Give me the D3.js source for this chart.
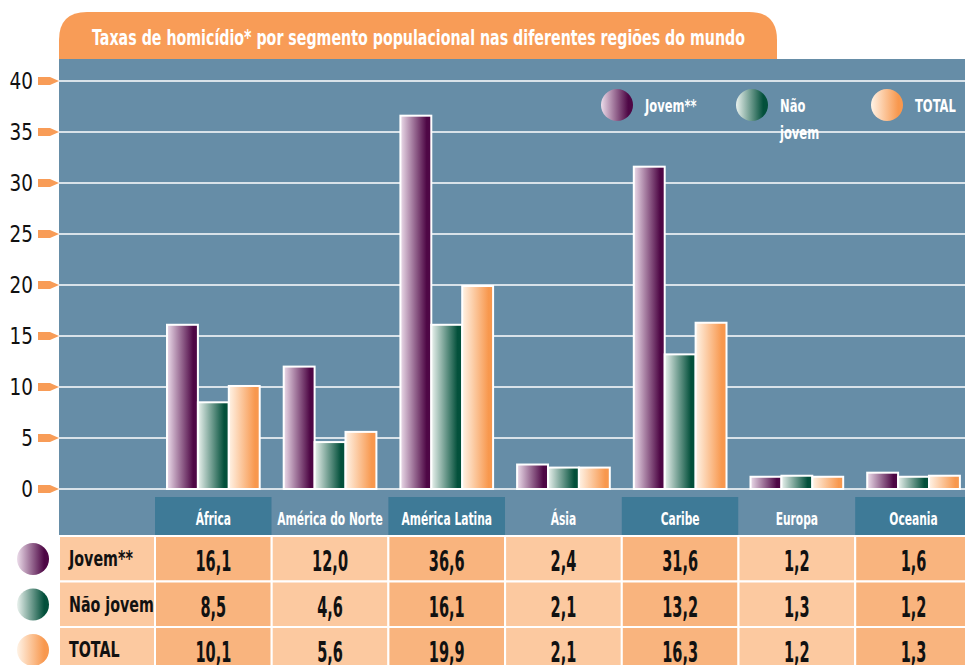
<!DOCTYPE html>
<html>
<head>
<meta charset="utf-8">
<script src="https://cdn.jsdelivr.net/npm/d3@7"></script>
<style>
body { margin: 0; background: #fff; }
svg { display: block; font-family: "DejaVu Sans", sans-serif; }
</style>
</head>
<body>
<div id="chart"></div>
<script>
var regions = ['África', 'América do Norte', 'América Latina', 'Ásia', 'Caribe', 'Europa', 'Oceania']
var series = ['Jovem**', 'Não jovem', 'TOTAL']
var legendNames = [['Jovem**'], ['Não', 'jovem'], ['TOTAL']]
var jovem = [16.1, 12.0, 36.6, 2.4, 31.6, 1.2, 1.6]
var naoJovem = [8.5, 4.6, 16.1, 2.1, 13.2, 1.3, 1.2]
var total = [10.1, 5.6, 19.9, 2.1, 16.3, 1.2, 1.3]
var yTicks = [0, 5, 10, 15, 20, 25, 30, 35, 40]
var title = 'Taxas de homicídio* por segmento populacional nas diferentes regiões do mundo'

var values = [jovem, naoJovem, total]
var gradColors = [['#ecdcea', '#4e0745'], ['#eaf2ee', '#03503b'], ['#fff3e6', '#f8984e']]

var width = 965, height = 665
var panelLeft = 59, panelTop = 59, headerTop = 497, headerBottom = 536
var rowH = 45.5
var colW = 116.7

var svg = d3.select('#chart').append('svg')
	.attr('width', width)
	.attr('height', height)

// condensed text: place at x,y then squeeze horizontally
function narrowText(sel, x, y, k) {
	return sel.attr('transform', function(d, i) {
		var xx = typeof x === 'function' ? x(d, i) : x
		var yy = typeof y === 'function' ? y(d, i) : y
		return 'translate(' + xx + ',' + yy + ') scale(' + k + ',1)'
	})
}

var defs = svg.append('defs')
gradColors.forEach(function(c, i) {
	var g = defs.append('linearGradient').attr('id', 'grad' + i)
		.attr('x1', '0%').attr('x2', '100%').attr('y1', '0%').attr('y2', '0%')
	g.append('stop').attr('offset', '0%').attr('stop-color', c[0])
	g.append('stop').attr('offset', '85%').attr('stop-color', c[1])
	g.append('stop').attr('offset', '100%').attr('stop-color', c[1])
})

// title tab
var tabL = panelLeft, tabR = 777, tabT = 12, r = 28
svg.append('path')
	.attr('d', 'M' + tabL + ',' + panelTop + ' V' + (tabT + r) + ' Q' + tabL + ',' + tabT + ' ' + (tabL + r) + ',' + tabT +
		' H' + (tabR - r) + ' Q' + tabR + ',' + tabT + ' ' + tabR + ',' + (tabT + r) + ' V' + panelTop + ' Z')
	.attr('fill', '#f89c57')
svg.append('text')
	.attr('x', 92).attr('y', 45)
	.attr('fill', '#fff')
	.attr('font-weight', 'bold')
	.attr('font-size', 22)
	.attr('textLength', 653)
	.attr('lengthAdjust', 'spacingAndGlyphs')
	.text(title)

// blue panel
svg.append('rect')
	.attr('x', panelLeft).attr('y', panelTop)
	.attr('width', width - panelLeft).attr('height', headerBottom - panelTop)
	.attr('fill', '#668da7')

var yScale = d3.scaleLinear().domain([0, 40]).range([489, 81])
var xScale = d3.scaleBand().domain(regions).range([155, 155 + colW * regions.length])
var xInner = d3.scaleBand().domain(series).range([12, colW - 12])

// gridlines
svg.append('g').selectAll('line')
	.data(yTicks).enter().append('line')
	.attr('x1', panelLeft).attr('x2', width)
	.attr('y1', function(d) { return yScale(d) })
	.attr('y2', function(d) { return yScale(d) })
	.attr('stroke', '#fff').attr('stroke-width', 1.3)

// y tick labels with orange markers
var ticks = svg.append('g').selectAll('g')
	.data(yTicks).enter().append('g')
	.attr('transform', function(d) { return 'translate(0,' + yScale(d) + ')' })
ticks.append('path')
	.attr('d', 'M38,-4 H50 L59,0 L50,4 H38 Z')
	.attr('fill', '#f89c57')
narrowText(ticks.append('text'), 33, 8, 0.8)
	.attr('text-anchor', 'end')
	.attr('font-size', 23)
	.attr('fill', '#111')
	.text(function(d) { return d })

// bars
var groups = svg.append('g').selectAll('g')
	.data(regions).enter().append('g')
	.attr('transform', function(d) { return 'translate(' + xScale(d) + ',0)' })
series.forEach(function(s, si) {
	groups.append('rect')
		.attr('x', xInner(s))
		.attr('width', xInner.bandwidth())
		.attr('y', function(d, i) { return yScale(values[si][i]) })
		.attr('height', function(d, i) { return yScale(0) - yScale(values[si][i]) })
		.attr('fill', 'url(#grad' + si + ')')
		.attr('stroke', '#fff')
		.attr('stroke-width', 2)
})

// legend
var legendX = [617, 752, 887]
var legend = svg.append('g').selectAll('g')
	.data(series).enter().append('g')
	.attr('transform', function(d, i) { return 'translate(' + legendX[i] + ',105)' })
legend.append('circle')
	.attr('r', 16)
	.attr('fill', function(d, i) { return 'url(#grad' + i + ')' })
legend.each(function(d, i) {
	narrowText(d3.select(this).selectAll('text')
		.data(legendNames[i]).enter().append('text'), 28, function(t, j) { return 7 + j * 27 }, 0.64)
		.attr('fill', '#fff')
		.attr('font-weight', 'bold')
		.attr('font-size', 18)
		.text(function(t) { return t })
})

// table header
var header = svg.append('g').selectAll('g')
	.data(regions).enter().append('g')
	.attr('transform', function(d) { return 'translate(' + xScale(d) + ',' + headerTop + ')' })
header.append('rect')
	.attr('width', colW).attr('height', headerBottom - headerTop)
	.attr('fill', function(d, i) { return i % 2 === 0 ? '#3e7a97' : '#668da7' })
narrowText(header.append('text'), colW / 2, 28, 0.63)
	.attr('text-anchor', 'middle')
	.attr('fill', '#fff')
	.attr('font-weight', 'bold')
	.attr('font-size', 17)
	.text(function(d) { return d })

// table rows
var fmt = function(v) { return d3.format('.1f')(v).replace('.', ',') }
series.forEach(function(s, si) {
	var y0 = headerBottom + si * rowH
	var row = svg.append('g').attr('transform', 'translate(0,' + y0 + ')')
	row.append('rect')
		.attr('x', panelLeft).attr('width', 155 - panelLeft).attr('height', rowH)
		.attr('fill', '#fcc9a0').attr('stroke', '#fff').attr('stroke-width', 2)
	narrowText(row.append('text'), 69, 30, 0.68)
		.attr('font-weight', 'bold').attr('font-size', 21).attr('fill', '#111')
		.text(s)
	row.append('circle')
		.attr('cx', 33).attr('cy', 23).attr('r', 16)
		.attr('fill', 'url(#grad' + si + ')')
	var cells = row.selectAll('g.cell')
		.data(regions).enter().append('g')
		.attr('class', 'cell')
		.attr('transform', function(d) { return 'translate(' + xScale(d) + ',0)' })
	cells.append('rect')
		.attr('width', colW).attr('height', rowH)
		.attr('fill', function(d, i) { return i % 2 === 0 ? '#f9b47e' : '#fcc9a0' })
		.attr('stroke', '#fff').attr('stroke-width', 2)
	narrowText(cells.append('text'), colW / 2, 35, 0.52)
		.attr('text-anchor', 'middle')
		.attr('font-weight', 'bold').attr('font-size', 28).attr('fill', '#111')
		.text(function(d, i) { return fmt(values[si][i]) })
})
</script>
</body>
</html>
